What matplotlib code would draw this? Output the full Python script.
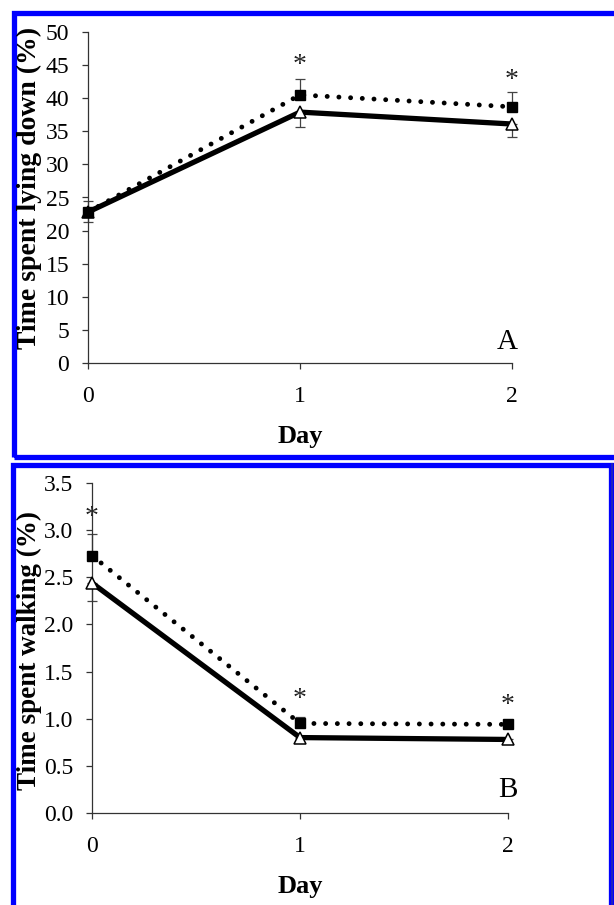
import matplotlib
matplotlib.use("Agg")
import matplotlib.pyplot as plt
from matplotlib.patches import Rectangle
from matplotlib.lines import Line2D

plt.rcParams["font.family"] = ["Liberation Serif", "DejaVu Serif"]

days = [0, 1, 2]
day_ticks = ["0", "1", "2"]

# Panel A: time spent lying down (%)
lying_square = [22.8, 40.5, 38.7]
lying_square_err = [1.7, 2.4, 2.3]
lying_triangle = [22.8, 37.9, 36.1]
lying_triangle_err = [1.5, 2.3, 2.0]
lying_star_days = [1, 2]
lying_star_y = [45.0, 42.6]
lying_yticks = [0, 5, 10, 15, 20, 25, 30, 35, 40, 45, 50]

# Panel B: time spent walking (%)
walk_square = [2.73, 0.95, 0.94]
walk_square_err = [0.23, 0.07, 0.05]
walk_triangle = [2.44, 0.80, 0.78]
walk_triangle_err = [0.19, 0.05, 0.04]
walk_star_days = [0, 1, 2]
walk_star_y = [3.13, 1.20, 1.14]
walk_yticks = [0.0, 0.5, 1.0, 1.5, 2.0, 2.5, 3.0, 3.5]

W, H = 614, 905
fig = plt.figure(figsize=(W / 100, H / 100), dpi=100)


def px_axes(left, top, right, bottom):
    return fig.add_axes([left / W, 1 - bottom / H, (right - left) / W, (bottom - top) / H])


def draw_panel(ax, sq, sq_err, tri, tri_err, star_x, star_y, yticks, ylim, fmt,
               letter, letter_x, letter_y):
    spine_col = "#333333"
    ax.plot(days, sq, linestyle=(0, (0.01, 2.4)), dash_capstyle="round",
            color="black", lw=3.5, zorder=3, clip_on=False)
    ax.plot(days, tri, linestyle="-", color="black", lw=3.8, zorder=4,
            solid_capstyle="butt", clip_on=False)
    ax.errorbar(days, sq, yerr=[[0] * 3, sq_err], fmt="none", ecolor="#444444",
                elinewidth=0.9, capsize=3.5, capthick=0.9, zorder=2, clip_on=False)
    ax.errorbar(days, tri, yerr=[tri_err, [0] * 3], fmt="none", ecolor="#444444",
                elinewidth=0.9, capsize=3.5, capthick=0.9, zorder=2, clip_on=False)
    ax.plot(days, tri, linestyle="none", marker="^", ms=8, mfc="white",
            mec="black", mew=1.1, zorder=5, clip_on=False)
    ax.plot(days, sq, linestyle="none", marker="s", ms=7.5, mfc="black",
            mec="black", zorder=6, clip_on=False)
    for x, y in zip(star_x, star_y):
        ax.text(x, y, "*", ha="center", va="center", fontsize=20, color="#222222")

    ax.set_xlim(0, 2)
    ax.set_ylim(*ylim)
    ax.set_xticks(days)
    ax.set_xticklabels(day_ticks)
    ax.set_yticks(yticks)
    ax.set_yticklabels([fmt.format(v) for v in yticks])
    for s in ("top", "right"):
        ax.spines[s].set_visible(False)
    for s in ("left", "bottom"):
        ax.spines[s].set_color(spine_col)
        ax.spines[s].set_linewidth(0.9)
    ax.tick_params(axis="y", direction="out", length=4.5, width=0.9, color=spine_col,
                   labelsize=17, pad=9)
    ax.tick_params(axis="x", direction="out", length=4.5, width=0.9, color=spine_col,
                   labelsize=17, pad=12)
    ax.set_xlabel("Day", fontsize=19, fontweight="bold", labelpad=13)
    ax.text(letter_x, letter_y, letter, transform=ax.transAxes, ha="right",
            va="center", fontsize=21, clip_on=False)


axA = px_axes(88, 32, 512, 363)
draw_panel(axA, lying_square, lying_square_err, lying_triangle, lying_triangle_err,
           lying_star_days, lying_star_y, lying_yticks, (0, 50), "{:g}", "A",
           1.014, 0.063)
fig.text(29 / W, 1 - 188 / H, "Time spent lying down (%)", rotation=90,
         ha="center", va="center", fontsize=20, fontweight="bold")

axB = px_axes(92, 483, 508, 813)
draw_panel(axB, walk_square, walk_square_err, walk_triangle, walk_triangle_err,
           walk_star_days, walk_star_y, walk_yticks, (0, 3.5), "{:.1f}", "B",
           1.024, 0.07)
fig.text(29 / W, 1 - 650 / H, "Time spent walking (%)", rotation=90,
         ha="center", va="center", fontsize=19.5, fontweight="bold")

# Blue frames around the two panels
blue = "#0000ff"
fig.add_artist(Rectangle((13.5 / W, 1 - 457.5 / H), (W + 10 - 13.5) / W, (457.5 - 13.5) / H,
                         transform=fig.transFigure, fill=False, edgecolor=blue, lw=3.8))
fig.add_artist(Rectangle((12.5 / W, -10 / H), (611 - 12.5) / W, (H + 10 - 464.5) / H,
                         transform=fig.transFigure, fill=False, edgecolor=blue, lw=3.8))
fig.add_artist(Line2D([612 / W, 612 / W], [0, 1 - 464.5 / H], transform=fig.transFigure,
                      color="#2020c0", lw=1.5))

fig.savefig("out.png", dpi=100)
